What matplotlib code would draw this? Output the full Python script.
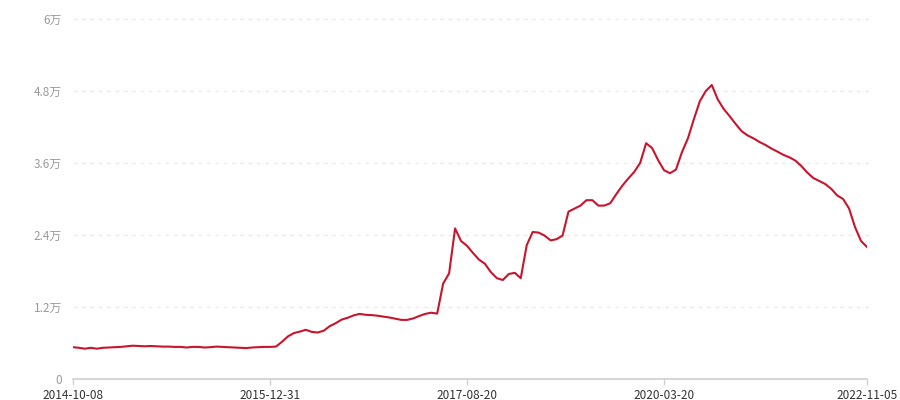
import matplotlib
matplotlib.use("Agg")
import matplotlib.pyplot as plt
from matplotlib.ticker import FixedLocator

plt.rcParams['font.family'] = ['Noto Sans CJK SC', 'DejaVu Sans']

# Tick labels (category axis, labels at these indices)
x_labels = ["2014-10-08", "2015-12-31", "2017-08-20", "2020-03-20", "2022-11-05"]
x_label_idx = [0, 33, 66, 99, 133]

y_ticks = [0, 12000, 24000, 36000, 48000, 60000]
y_tick_labels = ["0", "1.2万", "2.4万", "3.6万", "4.8万", "6万"]

values = [
    5300, 5200, 5050, 5200, 5050, 5200, 5250, 5300, 5350, 5450,
    5550, 5500, 5450, 5500, 5450, 5400, 5400, 5350, 5350, 5250,
    5350, 5350, 5250, 5300, 5400, 5350, 5300, 5250, 5200, 5150,
    5250, 5300, 5350, 5350, 5400, 6200, 7100, 7650, 7900, 8200,
    7850, 7750, 8050, 8800, 9300, 9900, 10200, 10600, 10850, 10700,
    10650, 10550, 10400, 10250, 10050, 9850, 9850, 10100, 10500, 10850,
    11050, 10900, 15900, 17600, 25100, 23000, 22200, 21000, 19900, 19200,
    17800, 16800, 16500, 17500, 17700, 16800, 22300, 24500, 24400, 23900,
    23100, 23300, 23900, 27900, 28400, 28900, 29800, 29800, 28900, 28900,
    29300, 30800, 32200, 33400, 34500, 36000, 39300, 38500, 36500, 34800,
    34300, 34900, 37800, 40100, 43300, 46300, 48000, 49000, 46600, 45000,
    43800, 42500, 41300, 40600, 40100, 39500, 39000, 38400, 37900, 37350,
    36950, 36400, 35500, 34400, 33500, 33000, 32500, 31700, 30600, 30000,
    28400, 25300, 23000, 22000,
]

fig = plt.figure(figsize=(9, 4), dpi=100)
ax = fig.add_axes([73/900, 21/400, 794/900, 360/400])

xs = list(range(len(values)))
ax.plot(xs, values, color='#c8152d', lw=1.5, solid_joinstyle='round', zorder=3)

ax.set_xlim(0, len(values) - 1)
ax.set_ylim(0, 60000)

ax.yaxis.set_major_locator(FixedLocator(y_ticks))
ax.set_yticklabels(y_tick_labels)
ax.set_xticks(x_label_idx)
ax.set_xticklabels(x_labels)

for y in y_ticks[1:]:
    ax.axhline(y, color='#ebebeb', lw=1.0, linestyle=(0, (3, 3)), zorder=1,
               xmin=0, xmax=1.004, clip_on=False)

for s in ['top', 'right', 'left']:
    ax.spines[s].set_visible(False)
ax.spines['bottom'].set_color('#d0d0d0')
ax.spines['bottom'].set_linewidth(1.2)

ax.tick_params(axis='y', length=0, pad=8, labelsize=8.5, labelcolor='#9a9a9a')
ax.tick_params(axis='x', length=4, width=1, color='#d0d0d0', pad=3,
               labelsize=8.5, labelcolor='#333333')

fig.savefig('out.png', dpi=100)
